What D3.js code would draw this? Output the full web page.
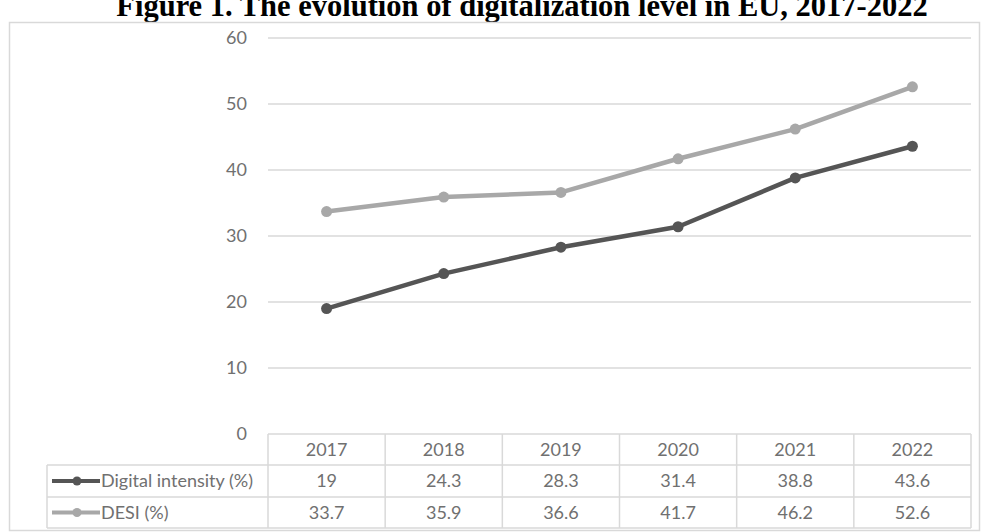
<!DOCTYPE html>
<html>
<head>
<meta charset="utf-8">
<script src="https://cdn.jsdelivr.net/npm/d3@7"></script>
<style>
  html, body { margin: 0; padding: 0; background: #fff; }
  svg { display: block; }
</style>
</head>
<body>
<script>
// Figure data
const titleText = "Figure 1. The evolution of digitalization level in EU, 2017-2022";
const years = ["2017", "2018", "2019", "2020", "2021", "2022"];
const digitalIntensity = [19, 24.3, 28.3, 31.4, 38.8, 43.6];
const desi = [33.7, 35.9, 36.6, 41.7, 46.2, 52.6];
const seriesNames = ["Digital intensity (%)", "DESI (%)"];
const seriesColors = ["#555555", "#a8a8a8"];
const yTicks = [0, 10, 20, 30, 40, 50, 60];

const W = 981, H = 532;
const plot = { left: 268, right: 971, top: 38, bottom: 434 };
const rowH = [31, 32, 31];
const legendLeft = 47;
const textColor = "#707070";
const gridColor = "#d9d9d9";
const font = "Lato, 'Open Sans', sans-serif";
const fontSize = 18;

const svg = d3.select("body").append("svg")
  .attr("width", W).attr("height", H);

// Title (bold serif, top edge runs past the canvas)
svg.append("text")
  .attr("x", 522).attr("y", 16)
  .attr("text-anchor", "middle")
  .attr("font-family", "'Liberation Serif', 'Times New Roman', serif")
  .attr("font-weight", "bold")
  .attr("font-size", 30.5)
  .attr("fill", "#000")
  .text(titleText);

// Chart frame
svg.append("rect")
  .attr("x", 9.5).attr("y", 22.5)
  .attr("width", 970).attr("height", 508)
  .attr("fill", "none")
  .attr("stroke", gridColor)
  .attr("stroke-width", 1.5);

const x = d3.scaleBand().domain(years).range([plot.left, plot.right]);
const y = d3.scaleLinear().domain([0, 60]).range([plot.bottom, plot.top]);

// Gridlines and value axis labels
const yAxis = d3.axisLeft(y).tickValues(yTicks).tickSize(0).tickPadding(21)
  .tickFormat(d3.format("d"));
const gAxis = svg.append("g").attr("transform", `translate(${plot.left},0)`).call(yAxis);
gAxis.select(".domain").remove();
gAxis.selectAll("text")
  .attr("font-family", font).attr("font-size", fontSize).attr("fill", textColor);

svg.append("g").selectAll("line").data(yTicks.filter(d => d > 0)).join("line")
  .attr("x1", plot.left).attr("x2", plot.right)
  .attr("y1", d => y(d)).attr("y2", d => y(d))
  .attr("stroke", gridColor).attr("stroke-width", 1.5);

// Data table beneath the plot
const rowTop = [plot.bottom, plot.bottom + rowH[0], plot.bottom + rowH[0] + rowH[1]];
const tableBottom = rowTop[2] + rowH[2];
const table = svg.append("g");

// horizontal rules
table.append("line")
  .attr("x1", plot.left).attr("x2", plot.right)
  .attr("y1", rowTop[0]).attr("y2", rowTop[0]);
[rowTop[1], rowTop[2], tableBottom].forEach(yy => {
  table.append("line")
    .attr("x1", legendLeft).attr("x2", plot.right)
    .attr("y1", yy).attr("y2", yy);
});
// vertical rules
const colEdges = years.map(d => x(d)).concat([plot.right]);
colEdges.forEach(xx => {
  table.append("line")
    .attr("x1", xx).attr("x2", xx)
    .attr("y1", rowTop[0]).attr("y2", tableBottom);
});
table.append("line")
  .attr("x1", legendLeft).attr("x2", legendLeft)
  .attr("y1", rowTop[1]).attr("y2", tableBottom);
table.selectAll("line").attr("stroke", gridColor).attr("stroke-width", 1.5);

// header row: years
table.append("g").selectAll("text").data(years).join("text")
  .attr("x", d => x(d) + x.bandwidth() / 2)
  .attr("y", rowTop[0] + rowH[0] / 2)
  .attr("dy", "0.35em")
  .attr("text-anchor", "middle")
  .attr("font-family", font).attr("font-size", fontSize).attr("fill", textColor)
  .text(d => d);

const series = [digitalIntensity, desi];
series.forEach((vals, i) => {
  const cy = rowTop[i + 1] + rowH[i + 1] / 2;
  table.append("g").selectAll("text").data(vals).join("text")
    .attr("x", (d, j) => x(years[j]) + x.bandwidth() / 2)
    .attr("y", cy)
    .attr("dy", "0.35em")
    .attr("text-anchor", "middle")
    .attr("font-family", font).attr("font-size", fontSize).attr("fill", textColor)
    .text(d => d);

  // legend key
  table.append("line")
    .attr("x1", 52).attr("x2", 100).attr("y1", cy).attr("y2", cy)
    .attr("stroke", seriesColors[i]).attr("stroke-width", 4);
  table.append("circle")
    .attr("cx", 77).attr("cy", cy).attr("r", 4.5)
    .attr("fill", seriesColors[i]);
  table.append("text")
    .attr("x", 101).attr("y", cy).attr("dy", "0.35em")
    .attr("font-family", font).attr("font-size", fontSize).attr("fill", textColor)
    .text(seriesNames[i]);
});

// Lines with markers
const line = d3.line()
  .x((d, j) => x(years[j]) + x.bandwidth() / 2)
  .y(d => y(d));

[1, 0].forEach(i => {
  const g = svg.append("g");
  g.append("path")
    .datum(series[i])
    .attr("d", line)
    .attr("fill", "none")
    .attr("stroke", seriesColors[i])
    .attr("stroke-width", 4.5)
    .attr("stroke-linejoin", "round");
  g.selectAll("circle").data(series[i]).join("circle")
    .attr("cx", (d, j) => x(years[j]) + x.bandwidth() / 2)
    .attr("cy", d => y(d))
    .attr("r", 5.5)
    .attr("fill", seriesColors[i]);
});
</script>
</body>
</html>
